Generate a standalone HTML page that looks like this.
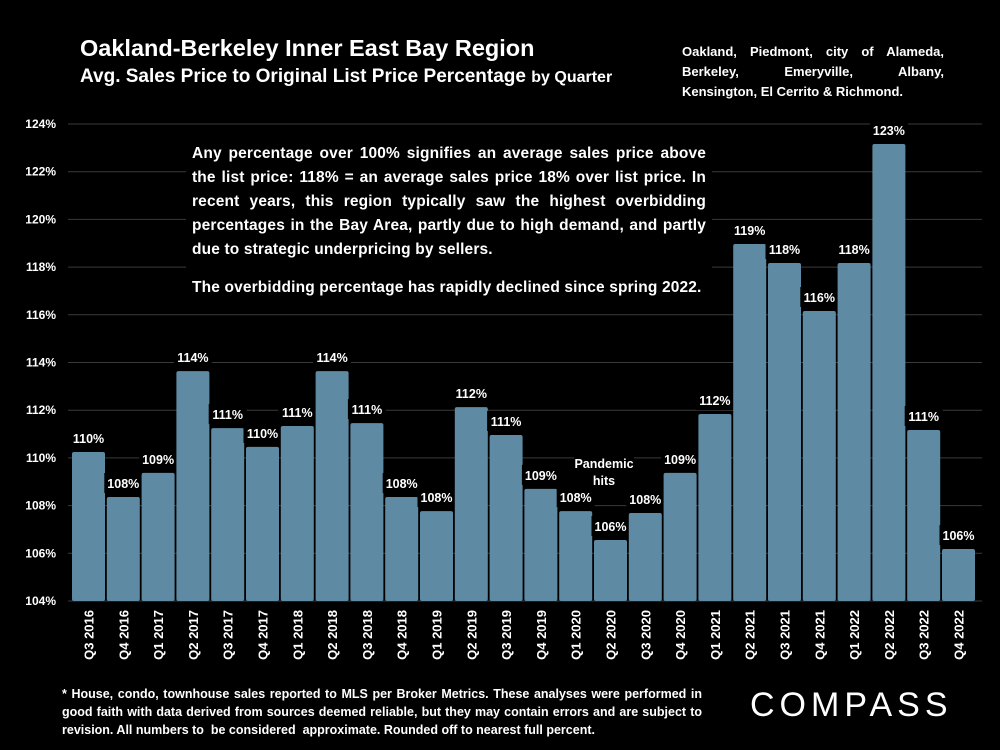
<!DOCTYPE html>
<html><head><meta charset="utf-8"><style>
body{margin:0;background:#000;width:1000px;height:750px;overflow:hidden;font-family:"Liberation Sans",sans-serif;color:#fff}
.t{position:absolute;font-weight:bold}
</style></head><body>
<div class="t" style="left:80px;top:35px;font-size:23.5px">Oakland-Berkeley Inner East Bay Region</div>
<div class="t" style="left:80px;top:66px;font-size:19px">Avg. Sales Price to Original List Price Percentage <span style="font-size:16px">by Quarter</span></div>
<div class="t" style="left:682px;top:42px;width:262px;font-size:13px;line-height:20px;text-align:justify;text-align-last:left">Oakland, Piedmont, city of Alameda, <span style="display:inline-block;width:262px;text-align:justify;text-align-last:justify;">Berkeley, Emeryville, Albany,</span> Kensington, El Cerrito &amp; Richmond.</div>
<svg id="c" width="1000" height="750" style="position:absolute;left:0;top:0"></svg>
<div class="t" style="left:186px;top:142px;width:514px;padding:0 6px;background:#000;font-size:15.5px;line-height:24px;text-align:justify;letter-spacing:0.15px">Any percentage over 100% signifies an average sales price above the list price: 118% = an average sales price 18% over list price. In recent years, this region typically saw the highest overbidding percentages in the Bay Area, partly due to high demand, and partly due to strategic underpricing by sellers.<div style="height:14px"></div>The overbidding percentage has rapidly declined since spring 2022.</div>
<div class="t" style="left:62px;top:685px;width:640px;font-size:12.5px;line-height:18px;text-align:justify">* House, condo, townhouse sales reported to MLS per Broker Metrics. These analyses were performed in good faith with data derived from sources deemed reliable, but they may contain errors and are subject to revision. All numbers to &nbsp;be considered &nbsp;approximate. Rounded off to nearest full percent.</div>
<div style="position:absolute;left:750px;top:686px;font-size:34px;letter-spacing:5px;font-weight:normal">COMPASS</div>
<script>
const categories=["Q3 2016","Q4 2016","Q1 2017","Q2 2017","Q3 2017","Q4 2017","Q1 2018","Q2 2018","Q3 2018","Q4 2018","Q1 2019","Q2 2019","Q3 2019","Q4 2019","Q1 2020","Q2 2020","Q3 2020","Q4 2020","Q1 2021","Q2 2021","Q3 2021","Q4 2021","Q1 2022","Q2 2022","Q3 2022","Q4 2022"];
const values=[110.25,108.36,109.37,113.64,111.25,110.46,111.34,113.64,111.46,108.36,107.77,112.13,110.96,108.7,107.77,106.56,107.69,109.37,111.84,118.97,118.17,116.16,118.17,123.16,111.17,106.18];
const labels=["110%","108%","109%","114%","111%","110%","111%","114%","111%","108%","108%","112%","111%","109%","108%","106%","108%","109%","112%","119%","118%","116%","118%","123%","111%","106%"];
const yTicks=[104,106,108,110,112,114,116,118,120,122,124];
const NS="http://www.w3.org/2000/svg",svg=document.getElementById('c');
const y=v=>601-(v-104)*23.85, x0=72, step=34.8, bw=33;
const x=i=>x0+i*step;
function mk(t,a){const e=document.createElementNS(NS,t);for(const k in a)e.setAttribute(k,a[k]);svg.appendChild(e);return e;}
yTicks.forEach(v=>{
 const g=mk('line',{x1:68,x2:982,y1:y(v),y2:y(v),stroke:'#3a3a3a','stroke-width':1});
 
 
 const t=mk('text',{x:56,y:y(v)+4,'text-anchor':'end',fill:'#fff','font-size':12,'font-weight':'bold','font-family':'Liberation Sans'});
 t.textContent=v+'%';
 
 
});
const pb=mk('rect',{x:574,y:454,width:60,height:30,fill:'#000'});


values.forEach((v,i)=>{
 const r=mk('rect',{x:x(i),y:y(v),width:bw,height:601-y(v),fill:'#5f8aa3',rx:2});
 
 
 const cx=x(i)+bw/2;
 const b=mk('rect',{x:cx-19,y:y(v)-24,width:38,height:20,fill:'#000'});
 
 
 const t=mk('text',{x:cx,y:y(v)-9,'text-anchor':'middle',fill:'#fff','font-size':12.5,'font-weight':'bold','font-family':'Liberation Sans'});
 t.textContent=labels[i];
 
 
 const c=mk('text',{x:0,y:0,'text-anchor':'end',fill:'#fff','font-size':13,'font-weight':'bold','font-family':'Liberation Sans',transform:`translate(${cx+5},610) rotate(-90)`});
 c.textContent=categories[i];
 
 
});
['Pandemic','hits'].forEach((s,k)=>{
 const t=mk('text',{x:604,y:468+k*17,'text-anchor':'middle',fill:'#fff','font-size':12.5,'font-weight':'bold','font-family':'Liberation Sans'});
 t.textContent=s;
 
 
});
</script>
</body></html>
